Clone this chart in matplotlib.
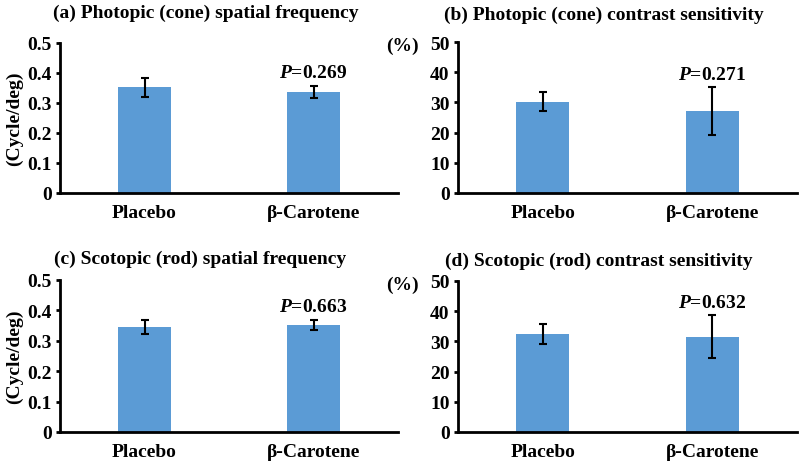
import matplotlib
matplotlib.use("Agg")
from matplotlib import pyplot as plt
import numpy as np

plt.rcParams['font.family'] = ['Liberation Serif', 'DejaVu Serif']
plt.rcParams['font.weight'] = 'bold'
plt.rcParams['mathtext.fontset'] = 'custom'
plt.rcParams['mathtext.it'] = 'Liberation Serif:italic:bold'
plt.rcParams['mathtext.rm'] = 'Liberation Serif:bold'

groups = ['Placebo', 'β-Carotene']
titles = ['(a) Photopic (cone) spatial frequency',
          '(b) Photopic (cone) contrast sensitivity',
          '(c) Scotopic (rod) spatial frequency',
          '(d) Scotopic (rod) contrast sensitivity']

# mean and error (SD)
photopic_sf = [0.353, 0.338]
photopic_sf_err = [0.032, 0.020]
photopic_cs = [30.2, 27.1]
photopic_cs_err = [3.2, 7.9]
scotopic_sf = [0.346, 0.352]
scotopic_sf_err = [0.024, 0.018]
scotopic_cs = [32.5, 31.5]
scotopic_cs_err = [3.4, 7.1]

p_values = ['0.269', '0.271', '0.663', '0.632']
sf_ticks = [0, 0.1, 0.2, 0.3, 0.4, 0.5]
sf_ticklabels = ['0', '0.1', '0.2', '0.3', '0.4', '0.5']
cs_ticks = [0, 10, 20, 30, 40, 50]

bar_color = '#5B9BD5'
fs = 14

fig = plt.figure(figsize=(8, 4.64), dpi=100)

# axes boxes in pixels: left, top, right, bottom
boxes = [(60, 44, 398, 194), (458, 43, 797, 194),
         (60, 281, 398, 433), (458, 282, 797, 433)]
data = [(photopic_sf, photopic_sf_err), (photopic_cs, photopic_cs_err),
        (scotopic_sf, scotopic_sf_err), (scotopic_cs, scotopic_cs_err)]
title_pos = [(206, 13), (604, 15), (200, 259), (599, 261)]

W, H = 800.0, 464.0
x = np.arange(len(groups))

for i in range(4):
    l, t, r, b = boxes[i]
    ax = fig.add_axes([l / W, 1 - b / H, (r - l) / W, (b - t) / H])
    vals, errs = data[i]
    ax.bar(x, vals, width=0.31, color=bar_color, yerr=errs,
           error_kw=dict(ecolor='black', elinewidth=1.5, capsize=3, capthick=1.5))
    ax.set_xlim(-0.5, 1.5)
    if i % 2 == 0:
        ax.set_ylim(0, 0.5)
        ax.set_yticks(sf_ticks)
        ax.set_yticklabels(sf_ticklabels)
        ax.set_ylabel('(Cycle/deg)', fontsize=fs, fontweight='bold', labelpad=3)
    else:
        ax.set_ylim(0, 50)
        ax.set_yticks(cs_ticks)
        fig.text(402 / W, 1 - (t + 3) / H, '(%)', fontsize=fs, fontweight='bold',
                 ha='center', va='center')
    ax.set_xticks(x)
    ax.set_xticklabels(groups)
    for s in ['top', 'right']:
        ax.spines[s].set_visible(False)
    for s in ['left', 'bottom']:
        ax.spines[s].set_linewidth(2)
    ax.tick_params(axis='y', length=3, width=2, labelsize=fs, pad=3)
    ax.tick_params(axis='x', length=0, labelsize=fs, pad=8)
    ax.annotate(r'$\mathit{P}$=' + p_values[i], xy=(1, vals[1] + errs[1]),
                xytext=(0, 3), textcoords='offset points', ha='center', va='bottom',
                fontsize=fs, fontweight='bold')
    tx, ty = title_pos[i]
    fig.text(tx / W, 1 - ty / H, titles[i], fontsize=fs, fontweight='bold',
             ha='center', va='center')

fig.savefig('out.png', dpi=100)
